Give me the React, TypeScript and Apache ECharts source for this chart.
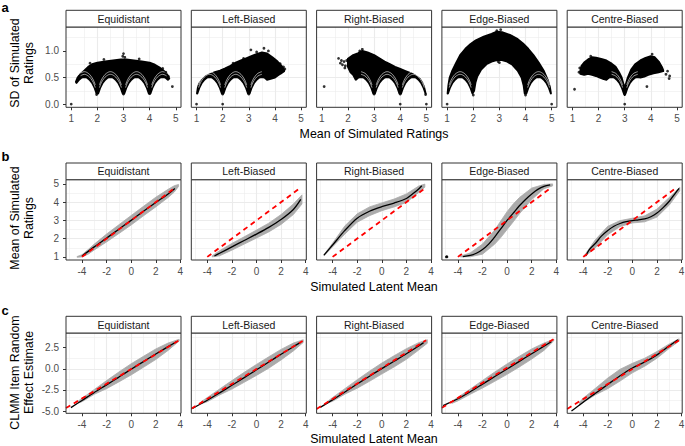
import React, { useEffect, useRef } from "react";
import * as echarts from "echarts";

type P = [number, number];
type ArchSpec = [number, number, number];

// ---------- facets & ticks ----------
const facetNames = ["Equidistant", "Left-Biased", "Right-Biased", "Edge-Biased", "Centre-Biased"];
const ratingMeanTicks = [1, 2, 3, 4, 5];
const sdTicks = [0, 0.5, 1.0];
const latentTicks = [-4, -2, 0, 2, 4];
const ratingTicks = [1, 2, 3, 4, 5];
const effectTicks = [-5, -2.5, 0, 2.5];

// ---------- row a: SD vs mean of simulated ratings ----------
// lower edge of one arch of the SD cloud (offset from integer rating, SD)
const archOffsets = [0.03, 0.1, 0.2, 0.3, 0.4, 0.5, 0.6, 0.7, 0.8, 0.9, 0.97];
const archLowerSd = [0.2, 0.3, 0.4, 0.46, 0.5, 0.51, 0.5, 0.46, 0.4, 0.3, 0.2];
// white gaps between nested arcs inside the cloud
const gapOffsets = [0.08, 0.15, 0.25, 0.35, 0.5, 0.65, 0.75, 0.85, 0.92];
const gapInnerSd = [0.31, 0.4, 0.48, 0.53, 0.56, 0.53, 0.48, 0.4, 0.31];
const gapOuterSd = [0.36, 0.45, 0.53, 0.58, 0.61, 0.58, 0.53, 0.45, 0.36];

function arch(k: number, from: number, to: number, offs: number[] = archOffsets, vals: number[] = archLowerSd): P[] {
  const out: P[] = [];
  offs.forEach((o, i) => {
    if (o >= from - 1e-9 && o <= to + 1e-9) out.push([k + o, vals[i]]);
  });
  return out;
}

const sdUpperEqui: P[] = [[1.18, 0.42], [1.25, 0.5], [1.35, 0.56], [1.5, 0.63], [1.65, 0.7], [1.8, 0.75], [2.0, 0.78], [2.3, 0.8], [2.6, 0.82], [2.9, 0.84], [3.1, 0.84], [3.4, 0.82], [3.7, 0.8], [4.0, 0.78], [4.2, 0.74], [4.4, 0.68], [4.55, 0.62], [4.68, 0.55], [4.75, 0.48]];
const sdLowerEqui: P[] = [...arch(1, 0.18, 1), ...arch(2, 0, 1), ...arch(3, 0, 1), ...arch(4, 0, 0.75)];
const sdGapsEqui: ArchSpec[] = [[1, 0.3, 1], [2, 0, 1], [3, 0, 1], [4, 0, 0.7]];
const sdPointsEqui: P[] = [[1, 0], [4.87, 0.33], [3.0, 0.95], [2.97, 0.9], [3.05, 0.88], [1.72, 0.77], [2.25, 0.84], [3.6, 0.85], [4.5, 0.67], [4.62, 0.6], [4.72, 0.52], [1.97, 0.18], [3.0, 0.19], [4.0, 0.2], [1.3, 0.52]];

const sdUpperLeft: P[] = [[1.02, 0.2], [1.05, 0.3], [1.1, 0.38], [1.2, 0.45], [1.35, 0.52], [1.5, 0.56], [1.7, 0.6], [1.9, 0.63], [2.1, 0.67], [2.3, 0.72], [2.5, 0.78], [2.7, 0.82], [2.9, 0.86], [3.1, 0.9], [3.3, 0.94], [3.5, 0.97], [3.7, 0.95], [3.9, 0.88], [4.1, 0.8], [4.25, 0.72], [4.35, 0.64]];
const sdLowerLeft: P[] = [...arch(1, 0, 1), ...arch(2, 0, 1), ...arch(3, 0, 0.7), [3.8, 0.47], [4.0, 0.5], [4.2, 0.57], [4.35, 0.62]];
const sdGapsLeft: ArchSpec[] = [[1, 0, 1], [2, 0, 1], [3, 0, 0.6]];
const sdPointsLeft: P[] = [[1, 0], [2, 0], [3.58, 1.05], [3.08, 1.02], [3.3, 0.98], [3.75, 1.0], [4.33, 0.7], [4.38, 0.66], [4.2, 0.76], [2.0, 0.19], [3.0, 0.19], [2.4, 0.77], [2.8, 0.86]];

const sdUpperRight: P[] = [[2.0, 0.85], [2.2, 0.92], [2.4, 0.96], [2.55, 1.0], [2.75, 0.97], [3.0, 0.92], [3.2, 0.86], [3.4, 0.8], [3.6, 0.75], [3.8, 0.7], [4.0, 0.66], [4.2, 0.62], [4.4, 0.58], [4.6, 0.53], [4.75, 0.47], [4.85, 0.4], [4.92, 0.3], [4.97, 0.2]];
const sdLowerRight: P[] = [[2.0, 0.7], [2.1, 0.6], [2.2, 0.55], ...arch(2, 0.3, 1), ...arch(3, 0, 1), ...arch(4, 0, 0.97)];
const sdGapsRight: ArchSpec[] = [[2, 0.4, 1], [3, 0, 1], [4, 0, 1]];
const sdPointsRight: P[] = [[1.09, 0.33], [1.64, 0.86], [1.71, 0.77], [1.79, 0.74], [1.85, 0.8], [1.9, 0.72], [1.95, 0.82], [1.75, 0.82], [1.88, 0.68], [2.55, 1.03], [2.45, 1.0], [4, 0], [5, 0], [3.0, 0.19], [4.0, 0.19], [4.97, 0.18]];

const sdUpperEdge: P[] = [[1.02, 0.2], [1.05, 0.35], [1.1, 0.5], [1.2, 0.63], [1.35, 0.78], [1.5, 0.92], [1.7, 1.04], [1.9, 1.13], [2.1, 1.2], [2.4, 1.27], [2.7, 1.32], [2.9, 1.36], [3.1, 1.35], [3.4, 1.3], [3.7, 1.22], [3.9, 1.14], [4.1, 1.04], [4.3, 0.92], [4.5, 0.78], [4.7, 0.62], [4.85, 0.45], [4.93, 0.32], [4.97, 0.2]];
const sdLowerEdge: P[] = [...arch(1, 0, 1), [2.03, 0.25], [2.08, 0.4], [2.15, 0.52], [2.3, 0.65], [2.5, 0.75], [2.7, 0.8], [2.9, 0.83], [3.1, 0.83], [3.3, 0.8], [3.5, 0.74], [3.7, 0.63], [3.85, 0.5], [3.93, 0.35], [3.97, 0.2], ...arch(4, 0, 1)];
const sdGapsEdge: ArchSpec[] = [[1, 0, 1], [4, 0, 1]];
const sdPointsEdge: P[] = [[1, 0], [5, 0], [2.9, 1.38], [3.05, 1.4], [2.0, 0.17], [4.0, 0.17], [3.0, 0.78], [2.95, 0.8]];

const sdUpperCentre: P[] = [[1.3, 0.62], [1.35, 0.72], [1.45, 0.78], [1.6, 0.84], [1.75, 0.88], [1.9, 0.87], [2.1, 0.85], [2.3, 0.82], [2.5, 0.76], [2.65, 0.7], [2.78, 0.6], [2.88, 0.5], [2.95, 0.38], [3.0, 0.3], [3.05, 0.38], [3.12, 0.5], [3.25, 0.65], [3.4, 0.75], [3.6, 0.82], [3.8, 0.87], [4.0, 0.9], [4.15, 0.88], [4.3, 0.8], [4.42, 0.7], [4.47, 0.64]];
const sdLowerCentre: P[] = [[1.3, 0.57], [1.45, 0.55], [1.6, 0.57], [1.75, 0.55], [1.9, 0.53], [2.05, 0.5], [2.2, 0.47], ...arch(2, 0.3, 0.97), [3.0, 0.17], ...arch(3, 0.03, 0.6), [3.75, 0.52], [3.9, 0.55], [4.1, 0.58], [4.3, 0.6], [4.47, 0.62]];
const sdGapsCentre: ArchSpec[] = [[2, 0.4, 1], [3, 0, 0.6]];
const sdPointsCentre: P[] = [[1.08, 0.28], [3, 0], [3.85, 0.33], [4.64, 0.62], [4.7, 0.48], [4.72, 0.53], [4.58, 0.56], [1.25, 0.6], [1.28, 0.68], [4.05, 0.94], [1.7, 0.9], [3.0, 0.2]];

// ---------- row b: mean rating vs latent mean ----------
const redMeanLine: P[] = [[-4, 1], [3.6, 4.8]];

const meanBandUpperEqui: P[] = [[-4.4, 1.02], [-4, 1.12], [-3.5, 1.4], [-3, 1.7], [-2, 2.25], [-1, 2.76], [0, 3.27], [1, 3.77], [2, 4.27], [3, 4.7], [3.5, 4.9], [3.85, 4.97]];
const meanBandLowerEqui: P[] = [[-4.4, 0.98], [-4, 1.0], [-3.5, 1.15], [-3, 1.38], [-2, 1.82], [-1, 2.28], [0, 2.75], [1, 3.25], [2, 3.74], [3, 4.25], [3.5, 4.55], [3.85, 4.86]];
const meanFitEqui: P[] = [[-4, 1.05], [-3, 1.55], [-2, 2.03], [-1, 2.52], [0, 3.0], [1, 3.5], [2, 3.98], [3, 4.45], [3.55, 4.75]];

const meanBandUpperLeft: P[] = [[-3.6, 1.06], [-3, 1.34], [-2, 1.74], [-1, 2.1], [0, 2.47], [1, 2.85], [2, 3.32], [3, 3.9], [3.7, 4.4]];
const meanBandLowerLeft: P[] = [[-3.6, 1.0], [-3, 1.06], [-2, 1.37], [-1, 1.7], [0, 2.03], [1, 2.37], [2, 2.78], [3, 3.32], [3.7, 3.9]];
const meanFitLeft: P[] = [[-3.42, 1.05], [-3, 1.2], [-2, 1.55], [-1, 1.9], [0, 2.25], [1, 2.62], [2, 3.05], [3, 3.6], [3.6, 4.15]];

const meanBandUpperRight: P[] = [[-4.7, 1.13], [-4, 1.75], [-3, 2.7], [-2, 3.36], [-1, 3.74], [0, 3.96], [1, 4.17], [2, 4.45], [3, 4.88], [3.5, 4.99]];
const meanBandLowerRight: P[] = [[-4.7, 1.06], [-4, 1.55], [-3, 2.25], [-2, 2.9], [-1, 3.26], [0, 3.53], [1, 3.74], [2, 3.98], [3, 4.53], [3.5, 4.82]];
const meanFitRight: P[] = [[-4.7, 1.1], [-4, 1.65], [-3, 2.45], [-2, 3.12], [-1, 3.5], [0, 3.75], [1, 3.95], [2, 4.2], [2.6, 4.5], [3, 4.72], [3.25, 4.9]];

const meanBandUpperEdge: P[] = [[-3.8, 1.04], [-3, 1.22], [-2, 1.7], [-1, 2.48], [-0.5, 2.98], [0, 3.48], [0.5, 3.9], [1, 4.25], [2, 4.77], [3, 4.97], [3.7, 5.0]];
const meanBandLowerEdge: P[] = [[-3.8, 1.0], [-3, 1.01], [-2, 1.15], [-1, 1.7], [-0.5, 2.07], [0, 2.5], [0.5, 2.92], [1, 3.36], [2, 4.14], [3, 4.74], [3.7, 4.89]];
const meanFitEdge: P[] = [[-3.6, 1.02], [-3, 1.08], [-2.5, 1.2], [-2, 1.4], [-1.5, 1.7], [-1, 2.1], [-0.5, 2.55], [0, 3.0], [0.5, 3.4], [1, 3.8], [1.5, 4.15], [2, 4.45], [2.5, 4.7], [3, 4.87], [3.5, 4.95]];
const meanPointsEdge: P[] = [[-4.95, 1.0], [-4.9, 1.02], [-4.88, 1.0]];

const meanBandUpperCentre: P[] = [[-3.9, 1.08], [-3, 1.95], [-2, 2.68], [-1, 2.99], [0, 3.12], [1, 3.25], [2, 3.62], [3, 4.26], [3.85, 4.82]];
const meanBandLowerCentre: P[] = [[-3.9, 1.0], [-3, 1.5], [-2, 2.22], [-1, 2.66], [0, 2.86], [1, 2.92], [2, 3.18], [3, 3.84], [3.85, 4.62]];
const meanFitCentre: P[] = [[-3.8, 1.05], [-3.5, 1.4], [-3, 1.75], [-2.5, 2.15], [-2, 2.45], [-1.5, 2.68], [-1, 2.83], [-0.5, 2.93], [0, 2.99], [0.5, 3.03], [1, 3.08], [1.5, 3.2], [2, 3.4], [2.5, 3.7], [3, 4.05], [3.5, 4.5], [3.8, 4.75]];

// ---------- row c: CLMM item random effect vs latent mean ----------
const effBandUpperEqui: P[] = [[-4.3, -3.8], [-4, -3.5], [-3, -2.45], [-2, -1.4], [-1, -0.38], [0, 0.6], [1, 1.48], [2, 2.35], [3, 3.05], [3.9, 3.5]];
const effBandLowerEqui: P[] = [[-4.3, -4.05], [-4, -3.9], [-3, -3.02], [-2, -2.35], [-1, -1.55], [0, -0.72], [1, 0.18], [2, 1.1], [3, 2.18], [3.9, 3.28]];
const effFitEqui: P[] = [[-4.9, -4.6], [-4, -3.75], [-3, -2.8], [-2, -1.9], [-1, -0.98], [0, -0.05], [1, 0.85], [2, 1.75], [3, 2.62], [3.7, 3.22]];
const effLinEqui: P[] = [[-5.3, -4.65], [3.9, 3.38]];

const effBandUpperLeft: P[] = [[-4.5, -3.9], [-4, -3.4], [-3, -2.4], [-2, -1.4], [-1, -0.42], [0, 0.52], [1, 1.42], [2, 2.3], [3, 3.05], [3.8, 3.45]];
const effBandLowerLeft: P[] = [[-4.5, -4.15], [-4, -3.9], [-3, -3.1], [-2, -2.4], [-1, -1.6], [0, -0.78], [1, 0.08], [2, 1.05], [3, 2.12], [3.8, 3.12]];
const effFitLeft: P[] = [[-5.2, -4.68], [-4, -3.72], [-3, -2.85], [-2, -1.95], [-1, -1.05], [0, -0.12], [1, 0.8], [2, 1.72], [3, 2.62], [3.55, 3.1]];
const effLinLeft: P[] = [[-5.3, -4.72], [3.75, 3.3]];

const effBandUpperRight: P[] = [[-4.4, -3.85], [-4, -3.4], [-3, -2.35], [-2, -1.3], [-1, -0.28], [0, 0.68], [1, 1.55], [2, 2.38], [3, 3.1], [3.7, 3.45]];
const effBandLowerRight: P[] = [[-4.4, -4.05], [-4, -3.85], [-3, -3.0], [-2, -2.3], [-1, -1.48], [0, -0.62], [1, 0.22], [2, 1.12], [3, 2.22], [3.7, 3.02]];
const effFitRight: P[] = [[-5.0, -4.57], [-4, -3.68], [-3, -2.75], [-2, -1.8], [-1, -0.88], [0, 0.02], [1, 0.9], [2, 1.78], [3, 2.7], [3.4, 3.1]];
const effLinRight: P[] = [[-5.3, -4.76], [3.6, 3.38]];

const effBandUpperEdge: P[] = [[-4.5, -3.85], [-4, -3.38], [-3, -2.4], [-2, -1.38], [-1, -0.38], [0, 0.58], [1, 1.48], [2, 2.35], [3, 3.05], [3.8, 3.5]];
const effBandLowerEdge: P[] = [[-4.5, -4.1], [-4, -3.8], [-3, -3.02], [-2, -2.28], [-1, -1.48], [0, -0.66], [1, 0.22], [2, 1.15], [3, 2.18], [3.8, 3.32]];
const effFitEdge: P[] = [[-5.2, -4.35], [-4, -3.55], [-3, -2.72], [-2, -1.82], [-1, -0.92], [0, -0.02], [1, 0.88], [2, 1.78], [3, 2.68], [3.6, 3.22]];
const effLinEdge: P[] = [[-5.3, -4.62], [3.85, 3.58]];

const effBandUpperCentre: P[] = [[-4.3, -3.95], [-4, -3.48], [-3, -2.3], [-2, -1.1], [-1, -0.05], [0, 0.65], [1, 1.25], [2, 2.05], [3, 2.95], [3.8, 3.55]];
const effBandLowerCentre: P[] = [[-4.3, -4.35], [-4, -4.0], [-3, -3.08], [-2, -2.35], [-1, -1.45], [0, -0.48], [1, 0.3], [2, 1.25], [3, 2.42], [3.8, 3.28]];
const effFitCentre: P[] = [[-4.95, -5.0], [-4, -3.95], [-3, -2.9], [-2, -1.85], [-1, -0.82], [0, 0.1], [1, 0.8], [2, 1.65], [3, 2.72], [3.7, 3.45]];
const effLinCentre: P[] = [[-5.3, -4.75], [3.85, 3.42]];

// ---------- layout ----------
const FONT = "'Liberation Sans', Arial, Helvetica, sans-serif";
const PANEL_LEFTS = [66, 191.3, 316.6, 441.9, 567.2];
const PANEL_W = 115;
const PANEL_H = 80.3;
const ROW_TOPS = [27, 179.7, 333];
const STRIP_H = 16.7;

const rowA = { xMin: 0.8, xMax: 5.2, xInt: 1, xTicks: ratingMeanTicks, yMin: -0.06, yMax: 1.45, yInt: 0.5, yTicks: sdTicks, yFmt: (v: number) => v.toFixed(1), xFmt: (v: number) => String(v) };
const rowB = { xMin: -5.3, xMax: 4.05, xInt: 2, xTicks: latentTicks, yMin: 0.83, yMax: 5.23, yInt: 1, yTicks: ratingTicks, yFmt: (v: number) => String(v), xFmt: (v: number) => String(v) };
const rowC = { xMin: -5.3, xMax: 4.05, xInt: 2, xTicks: latentTicks, yMin: -5.27, yMax: 4.24, yInt: 2.5, yTicks: effectTicks, yFmt: (v: number) => v.toFixed(1), xFmt: (v: number) => String(v) };
const rows = [rowA, rowB, rowC];

const sdPanels = [
  { upper: sdUpperEqui, lower: sdLowerEqui, gaps: sdGapsEqui, pts: sdPointsEqui },
  { upper: sdUpperLeft, lower: sdLowerLeft, gaps: sdGapsLeft, pts: sdPointsLeft },
  { upper: sdUpperRight, lower: sdLowerRight, gaps: sdGapsRight, pts: sdPointsRight },
  { upper: sdUpperEdge, lower: sdLowerEdge, gaps: sdGapsEdge, pts: sdPointsEdge },
  { upper: sdUpperCentre, lower: sdLowerCentre, gaps: sdGapsCentre, pts: sdPointsCentre },
];
const meanPanels = [
  { upper: meanBandUpperEqui, lower: meanBandLowerEqui, fit: meanFitEqui, ref: redMeanLine, pts: [] as P[] },
  { upper: meanBandUpperLeft, lower: meanBandLowerLeft, fit: meanFitLeft, ref: redMeanLine, pts: [] as P[] },
  { upper: meanBandUpperRight, lower: meanBandLowerRight, fit: meanFitRight, ref: redMeanLine, pts: [] as P[] },
  { upper: meanBandUpperEdge, lower: meanBandLowerEdge, fit: meanFitEdge, ref: redMeanLine, pts: meanPointsEdge },
  { upper: meanBandUpperCentre, lower: meanBandLowerCentre, fit: meanFitCentre, ref: redMeanLine, pts: [] as P[] },
];
const effPanels = [
  { upper: effBandUpperEqui, lower: effBandLowerEqui, fit: effFitEqui, ref: effLinEqui, pts: [] as P[] },
  { upper: effBandUpperLeft, lower: effBandLowerLeft, fit: effFitLeft, ref: effLinLeft, pts: [] as P[] },
  { upper: effBandUpperRight, lower: effBandLowerRight, fit: effFitRight, ref: effLinRight, pts: [] as P[] },
  { upper: effBandUpperEdge, lower: effBandLowerEdge, fit: effFitEdge, ref: effLinEdge, pts: [] as P[] },
  { upper: effBandUpperCentre, lower: effBandLowerCentre, fit: effFitCentre, ref: effLinCentre, pts: [] as P[] },
];

function polySeries(upper: P[], lower: P[], gi: number, fill: string, strokeW: number) {
  const poly: P[] = [...upper, ...lower.slice().reverse()];
  return {
    type: "custom",
    coordinateSystem: "cartesian2d",
    xAxisIndex: gi,
    yAxisIndex: gi,
    data: poly,
    silent: true,
    z: 2,
    renderItem: (params: any, api: any) => {
      if (params.dataIndex !== 0) return null;
      return {
        type: "polygon",
        shape: { points: poly.map((p) => api.coord(p)) },
        style: { fill, stroke: fill, lineWidth: strokeW, lineJoin: "round" },
      };
    },
  };
}

function buildOption() {
  const grids: any[] = [];
  const xAxes: any[] = [];
  const yAxes: any[] = [];
  const series: any[] = [];
  const graphics: any[] = [];

  rows.forEach((row, r) => {
    for (let c = 0; c < 5; c++) {
      const gi = r * 5 + c;
      const left = PANEL_LEFTS[c];
      const top = ROW_TOPS[r];
      grids.push({ left, top, width: PANEL_W, height: PANEL_H, containLabel: false, outerBoundsMode: "none", show: false });
      const axisBase = {
        type: "value",
        gridIndex: gi,
        axisLine: { show: false, onZero: false },
        minorTick: { show: false, splitNumber: 2 },
        splitLine: { show: true, showMinLine: false, showMaxLine: false, lineStyle: { color: "#EBEBEB", width: 1.1 } },
        minorSplitLine: { show: true, lineStyle: { color: "#EBEBEB", width: 0.55 } },
      };
      xAxes.push({
        ...axisBase,
        position: "bottom",
        min: row.xMin,
        max: row.xMax,
        minInterval: row.xInt,
        maxInterval: row.xInt,
        splitNumber: 4,
        axisTick: { show: true, length: 3, customValues: row.xTicks, lineStyle: { color: "#333333", width: 1 } },
        axisLabel: { show: true, customValues: row.xTicks, formatter: row.xFmt, color: "#4D4D4D", fontSize: 10, fontFamily: FONT, margin: 6 },
      });
      yAxes.push({
        ...axisBase,
        position: "left",
        min: row.yMin,
        max: row.yMax,
        minInterval: row.yInt,
        maxInterval: row.yInt,
        splitNumber: 4,
        axisTick: { show: c === 0, length: 3, customValues: row.yTicks, lineStyle: { color: "#333333", width: 1 } },
        axisLabel: { show: c === 0, customValues: row.yTicks, formatter: row.yFmt, color: "#4D4D4D", fontSize: 10, fontFamily: FONT, margin: 7 },
      });

      // panel border + strip
      graphics.push({
        type: "rect", z: 100,
        shape: { x: left, y: top, width: PANEL_W, height: PANEL_H },
        style: { fill: "none", stroke: "#333333", lineWidth: 1 },
      });
      graphics.push({
        type: "rect", z: 100,
        shape: { x: left, y: top - STRIP_H, width: PANEL_W, height: STRIP_H },
        style: { fill: "#FFFFFF", stroke: "#333333", lineWidth: 1 },
      });
      graphics.push({
        type: "text", z: 101,
        x: left + PANEL_W / 2, y: top - STRIP_H / 2,
        style: { text: facetNames[c], fill: "#1A1A1A", fontSize: 10.5, fontFamily: FONT, align: "center", verticalAlign: "middle" },
      });

      if (r === 0) {
        const pnl = sdPanels[c];
        series.push(polySeries(pnl.upper, pnl.lower, gi, "#000000", 2));
        pnl.gaps.forEach(([k, from, to]) => {
          [gapInnerSd, gapOuterSd].forEach((vals) => {
            series.push({
              type: "line", xAxisIndex: gi, yAxisIndex: gi, silent: true, z: 3,
              data: arch(k, from, to, gapOffsets, vals),
              smooth: 0.4, symbol: "none",
              lineStyle: { color: "#FFFFFF", width: 0.6 },
            });
          });
        });
        series.push({
          type: "scatter", xAxisIndex: gi, yAxisIndex: gi, silent: true, z: 4,
          data: pnl.pts, symbolSize: 2.8, itemStyle: { color: "#000000" },
        });
      } else {
        const pnl = r === 1 ? meanPanels[c] : effPanels[c];
        series.push(polySeries(pnl.upper, pnl.lower, gi, "#ABABAB", 0.8));
        series.push({
          type: "line", xAxisIndex: gi, yAxisIndex: gi, silent: true, z: 3,
          data: pnl.fit, smooth: 0.3, symbol: "none",
          lineStyle: { color: "#000000", width: 1.3 },
        });
        series.push({
          type: "line", xAxisIndex: gi, yAxisIndex: gi, silent: true, z: 4,
          data: pnl.ref, symbol: "none",
          lineStyle: { color: "#FF0000", width: 1.8, type: [5, 4] },
        });
        if (pnl.pts.length) {
          series.push({
            type: "scatter", xAxisIndex: gi, yAxisIndex: gi, silent: true, z: 4,
            data: pnl.pts, symbolSize: 2.5, itemStyle: { color: "#000000" },
          });
        }
      }
    }
  });

  const yTitles = [
    { text: "SD of Simulated\nRatings", y: 63 },
    { text: "Mean of Simulated\nRatings", y: 218 },
    { text: "CLMM Item Random\nEffect Estimate", y: 372.5 },
  ];
  yTitles.forEach((t) => {
    graphics.push({
      type: "text", x: 21.8, y: t.y, rotation: Math.PI / 2, z: 101,
      style: { text: t.text, fill: "#000000", fontSize: 12.4, fontFamily: FONT, align: "center", verticalAlign: "middle", lineHeight: 14.5 },
    });
  });
  const xTitles = [
    { text: "Mean of Simulated Ratings", y: 134 },
    { text: "Simulated Latent Mean", y: 286.5 },
    { text: "Simulated Latent Mean", y: 439 },
  ];
  xTitles.forEach((t) => {
    graphics.push({
      type: "text", x: 374, y: t.y, z: 101,
      style: { text: t.text, fill: "#000000", fontSize: 12.4, fontFamily: FONT, align: "center", verticalAlign: "middle" },
    });
  });
  const letters = [
    { text: "a", y: 7 },
    { text: "b", y: 156.5 },
    { text: "c", y: 310 },
  ];
  letters.forEach((t) => {
    graphics.push({
      type: "text", x: 1.5, y: t.y, z: 101,
      style: { text: t.text, fill: "#000000", fontSize: 13, fontWeight: "bold", fontFamily: FONT, align: "left", verticalAlign: "middle" },
    });
  });

  return {
    animation: false,
    backgroundColor: "#FFFFFF",
    grid: grids,
    xAxis: xAxes,
    yAxis: yAxes,
    series,
    graphic: { elements: graphics },
  };
}

export default function App() {
  const ref = useRef<HTMLDivElement>(null);
  useEffect(() => {
    if (!ref.current) return;
    const chart = echarts.init(ref.current, null, { renderer: "svg" });
    chart.setOption(buildOption() as any);
    return () => chart.dispose();
  }, []);
  return <div ref={ref} style={{ position: "absolute", left: 0, top: 0, width: 685, height: 446 }} />;
}
